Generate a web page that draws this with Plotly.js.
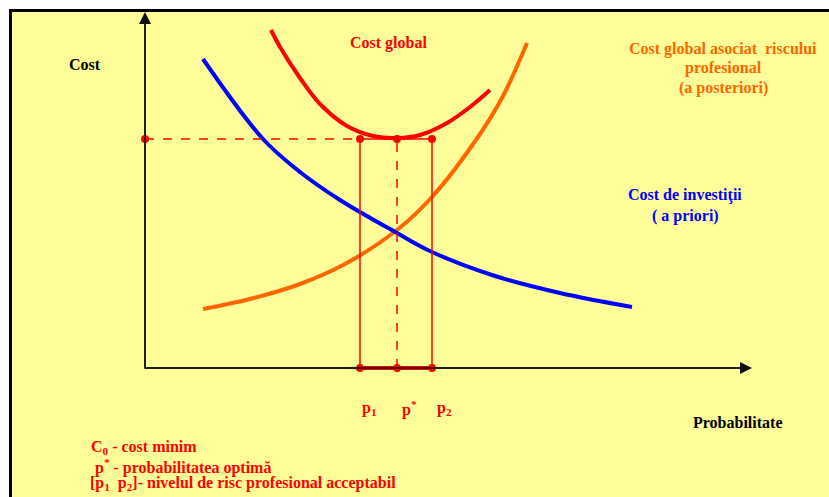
<!DOCTYPE html>
<html>
<head>
<meta charset="utf-8">
<script src="https://cdn.plot.ly/plotly-3.0.1.min.js"></script>
<style>html,body{margin:0;padding:0;background:#fff;}#chart{width:829px;height:497px;}</style>
</head>
<body>
<div id="chart"></div>
<script>
// Coordinates: probability axis (x) and cost axis (y), origin at the axes corner
const investX = [58, 118, 155, 195, 252, 287, 350, 415, 487];
const investY = [309, 229, 196, 168, 135, 116, 92, 75, 61];

const riskX = [58, 105, 155, 200, 252, 287, 335, 358, 382];
const riskY = [59, 69, 84, 104, 138, 171, 234, 272, 325];

const globalX = [126, 135, 155, 175, 202, 228, 252, 275, 302, 325, 345];
const globalY = [338, 321, 290, 264, 242, 232, 230, 233, 245, 261, 278];

const p1 = 215, pOpt = 252, p2 = 287;   // probabilities
const c0 = 229;                          // minimum cost
const xAxisEnd = 607, yAxisEnd = 356;

const font = "Liberation Serif, Times New Roman, serif";
const RED = "#FF0000", BLUE = "#0000FF", ORANGE = "#FF6600";

const traces = [
  {x: riskX, y: riskY, mode: "lines", line: {color: ORANGE, width: 4, shape: "spline", smoothing: 1}},
  {x: investX, y: investY, mode: "lines", line: {color: BLUE, width: 4, shape: "spline", smoothing: 1}},
  {x: globalX, y: globalY, mode: "lines", line: {color: RED, width: 4, shape: "spline", smoothing: 1}},
  {x: [0, p1], y: [c0, c0], mode: "lines", line: {color: RED, width: 1.5, dash: "dash"}},
  {x: [p1, p2], y: [c0, c0], mode: "lines", line: {color: RED, width: 1.5}},
  {x: [p1, p1], y: [0, c0], mode: "lines", line: {color: RED, width: 1.5}},
  {x: [p2, p2], y: [0, c0], mode: "lines", line: {color: RED, width: 1.5}},
  {x: [pOpt, pOpt], y: [0, c0], mode: "lines", line: {color: RED, width: 1.5, dash: "dash"}},
  {x: [p1, p2], y: [0, 0], mode: "lines", line: {color: RED, width: 4}},
  {x: [0, p1, pOpt, p2, p1, pOpt, p2], y: [c0, c0, c0, c0, 0, 0, 0], mode: "markers",
   marker: {color: RED, size: 8}}
];

function txt(x, y, text, color, opts) {
  return Object.assign({x: x, y: y, text: text, showarrow: false,
    font: {family: font, size: 16, color: color, weight: 700},
    xanchor: "center", yanchor: "middle"}, opts || {});
}

const annotations = [
  // axes arrows
  {x: 0, y: yAxisEnd, ax: 0, ay: -2, axref: "x", ayref: "y", text: "", showarrow: true,
   arrowhead: 2, arrowsize: 1.6, arrowwidth: 1.5, arrowcolor: "#111", standoff: 0},
  {x: xAxisEnd, y: 0, ax: -2, ay: 0, axref: "x", ayref: "y", text: "", showarrow: true,
   arrowhead: 2, arrowsize: 1.6, arrowwidth: 1.5, arrowcolor: "#111", standoff: 0},
  txt(-60, 304, "Cost", "#000"),
  txt(592, -54, "Probabilitate", "#000"),
  txt(243, 325, "Cost global", RED),
  txt(578, 319, "Cost global asociat  riscului", ORANGE),
  txt(578, 300, "profesional", ORANGE),
  txt(578, 280, "(a posteriori)", ORANGE),
  txt(540, 173, "Cost de investiţii", BLUE),
  txt(540, 152, "( a priori)", BLUE),
  txt(p1, -40, "p<sub>1</sub>", RED, {xanchor: "left"}),
  txt(pOpt + 3, -40, "p<sup>*</sup>", RED, {xanchor: "left"}),
  txt(p2 + 3, -40, "p<sub>2</sub>", RED, {xanchor: "left"}),
  txt(-56, -79, "C<sub>0</sub> - cost minim", RED, {xanchor: "left"}),
  txt(-52, -98, "p<sup>*</sup> - probabilitatea optimă", RED, {xanchor: "left"}),
  txt(-57, -115, "[p<sub>1</sub>  p<sub>2</sub>]- nivelul de risc profesional acceptabil", RED, {xanchor: "left"})
];

const layout = {
  width: 829, height: 497,
  margin: {l: 0, r: 0, t: 0, b: 0},
  paper_bgcolor: "#FFFFFF",
  plot_bgcolor: "rgba(0,0,0,0)",
  showlegend: false,
  xaxis: {range: [-145, 684], visible: false, fixedrange: true},
  yaxis: {range: [-129, 368], visible: false, fixedrange: true},
  shapes: [
    {type: "rect", xref: "paper", yref: "paper", x0: 10.5 / 829, x1: 1.02, y0: -0.02, y1: 1 - 10.5 / 497,
     fillcolor: "#FFFE99", line: {color: "#000", width: 3}, layer: "below"},
    {type: "line", xref: "x", yref: "y", x0: 0, y0: 0, x1: 0, y1: yAxisEnd - 4, line: {color: "#111", width: 1.5}, layer: "below"},
    {type: "line", xref: "x", yref: "y", x0: 0, y0: 0, x1: xAxisEnd - 4, y1: 0, line: {color: "#111", width: 1.5}, layer: "below"}
  ],
  annotations: annotations
};

Plotly.newPlot("chart", traces, layout, {displayModeBar: false, staticPlot: true});
</script>
</body>
</html>
